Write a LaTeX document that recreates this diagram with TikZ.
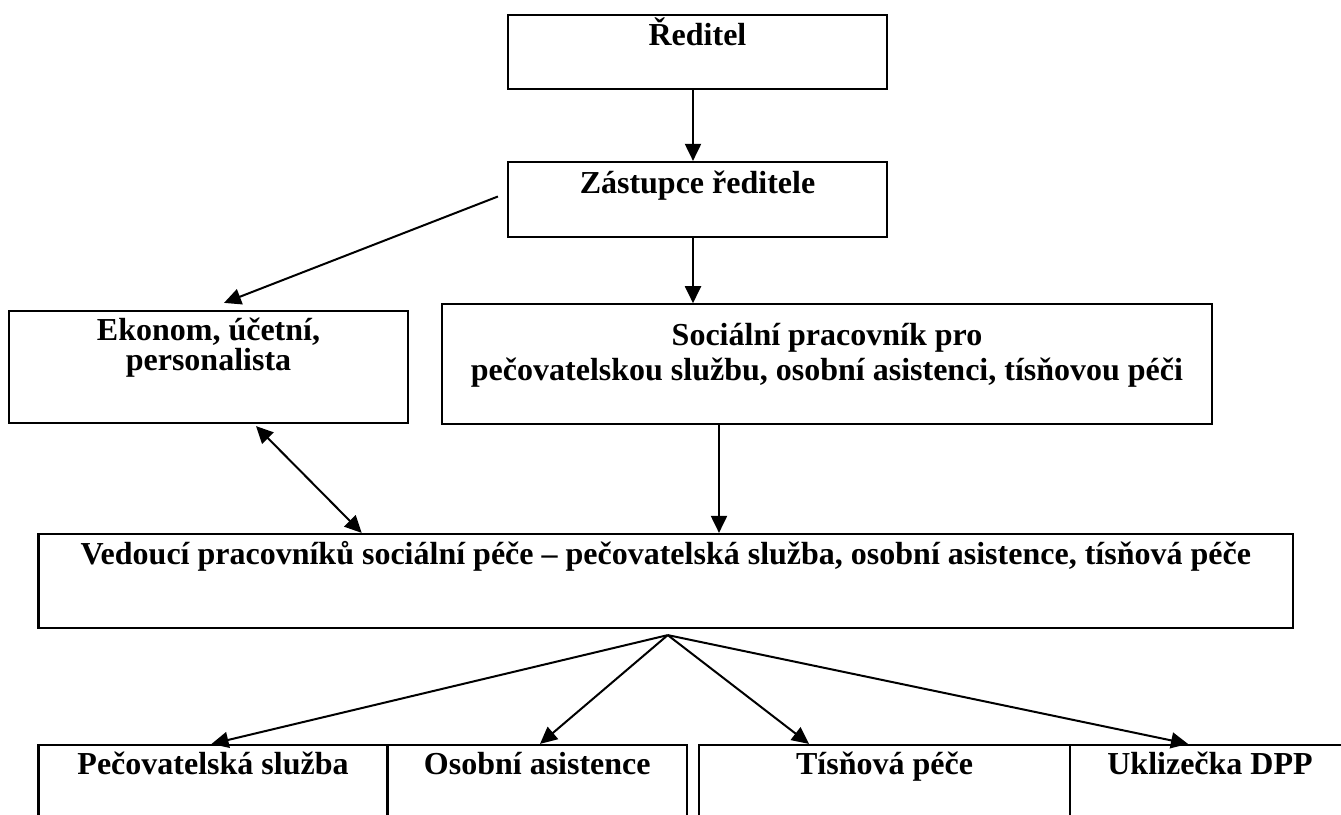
\documentclass[tikz,border=0pt]{standalone}
\usepackage{fontspec}
\setmainfont{Liberation Serif}
\usetikzlibrary{positioning}
\usetikzlibrary{calc}
\usetikzlibrary{arrows.meta}

\newcommand{\orgfont}{\fontsize{32}{36}\selectfont\bfseries}
\newcommand{\twolines}[3]{\vtop{\baselineskip=#1\lineskiplimit=-\maxdimen\halign{\hfil##\hfil\cr#2\cr#3\cr}}}

\tikzset{
    orgbox/.style={draw, line width=2.2pt, inner sep=0pt, anchor=base, font=\orgfont},
    link/.style={line width=2pt, -{Triangle[length=17pt,width=16pt]}},
}

\begin{document}
\begin{tikzpicture}[x=1pt, y=-1pt]
    \useasboundingbox (0,0) rectangle (1341,814);
    \clip (0,0) rectangle (1341,814);
    % vedeni
    \node[orgbox, minimum width=379pt, text height=30pt, text depth=44pt] (reditel) at (697.5,45) {Ředitel};
    \node[orgbox, minimum width=379pt, text height=31pt, text depth=44pt] (zastupce) at (697.5,193) {Zástupce ředitele};
    \node[orgbox, minimum width=399pt, text height=29pt, text depth=83pt] (ekonom) at (208.5,340) {\twolines{30pt}{Ekonom, účetní,}{personalista}};
    \node[orgbox, line width=1.6pt, minimum width=770pt, text height=41pt, text depth=79pt] (socialni) at (827,345) {\twolines{35pt}{Sociální pracovník pro}{pečovatelskou službu, osobní asistenci, tísňovou péči}};
    \node[orgbox, minimum width=1254.5pt, text height=30pt, text depth=64pt] (vedouci) at (665.75,564) {Vedoucí pracovníků sociální péče -- pečovatelská služba, osobní asistence, tísňová péče};
    % sluzby
    \node[orgbox, minimum width=349pt, text height=29pt, text depth=60pt] (pecovatel) at (213,774) {Pečovatelská služba};
    \node[orgbox, minimum width=299.4pt, text height=29pt, text depth=60pt] (osobni) at (537.3,774) {Osobní asistence};
    \node[orgbox, minimum width=371pt, text height=29pt, text depth=60pt] (tisnova) at (884.5,774) {Tísňová péče};
    \node[orgbox, minimum width=280pt, text height=29pt, text depth=60pt] (uklizecka) at (1210,774) {Uklizečka DPP};

    \coordinate (zdown) at ([xshift=-4.5pt]zastupce.south);
    \coordinate (sdown) at ([xshift=-108pt]socialni.south);
    \coordinate (fan) at ([xshift=2pt,yshift=-6pt]vedouci.south);

    \draw[link] ([xshift=-4.5pt]reditel.south) -- ([xshift=-4.5pt]zastupce.north);
    \draw[link] (zdown) -- (zdown |- socialni.north);
    \draw[link] ([xshift=-9pt,yshift=3pt]zastupce.west) -- ([xshift=15.5pt,yshift=7pt]ekonom.north);
    \draw[link, {Triangle[length=17pt,width=16pt]}-{Triangle[length=17pt,width=16pt]}] ([xshift=47.5pt,yshift=-2pt]ekonom.south) -- ([xshift=-304pt]vedouci.north);
    \draw[link] (sdown) -- (sdown |- vedouci.north);
    \foreach \dst/\dx in {pecovatel/-1.5, osobni/2.7, tisnova/-75.5, uklizecka/-22}
        \draw[link] (fan) -- ([xshift=\dx pt]\dst.north);
\end{tikzpicture}
\end{document}
